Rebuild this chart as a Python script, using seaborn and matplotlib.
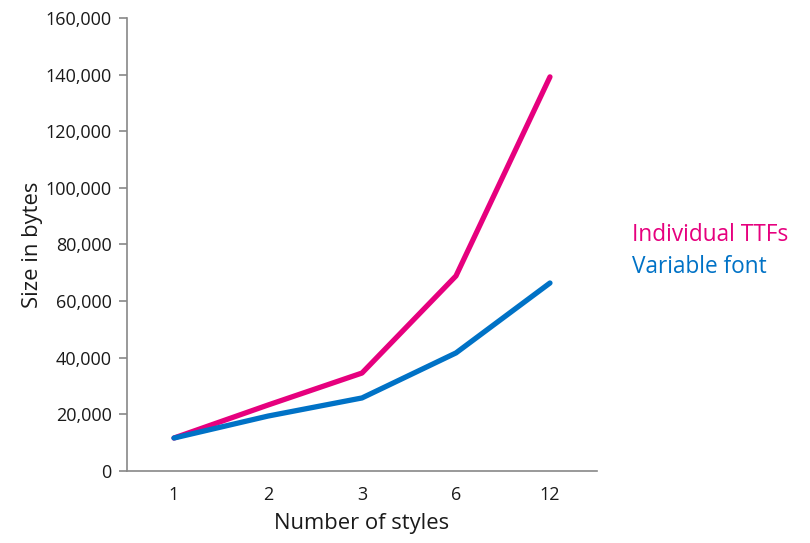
import matplotlib
matplotlib.use("Agg")
import matplotlib.pyplot as plt
import seaborn as sns
import pandas as pd
from matplotlib.ticker import FuncFormatter

styles = ["1", "2", "3", "6", "12"]
individual_ttfs = [11650, 23300, 34600, 68900, 139200]
variable_font = [11650, 19400, 25800, 41700, 66400]
series_names = ["Individual TTFs", "Variable font"]
colors = ["#E6007E", "#0072C6"]

df = pd.DataFrame({
    "styles": styles * 2,
    "bytes": individual_ttfs + variable_font,
    "series": [series_names[0]] * len(styles) + [series_names[1]] * len(styles),
})

sns.set_style("white")
plt.rcParams["font.family"] = ["Open Sans", "DejaVu Sans"]

fig = plt.figure(figsize=(8.1, 5.43), dpi=100)
ax = fig.add_axes([0.1568, 0.1326, 0.737 - 0.1568, 0.9669 - 0.1326])

sns.lineplot(data=df, x="styles", y="bytes", hue="series", palette=colors,
             linewidth=3.8, sort=False, ax=ax, legend=False)

ax.set_xlim(-0.5, 4.5)
ax.set_ylim(0, 160000)
ax.set_yticks(range(0, 160001, 20000))
ax.yaxis.set_major_formatter(FuncFormatter(lambda v, p: f"{int(v):,}"))
ax.set_xlabel("Number of styles", fontsize=15.8, color="#1a1a1a", labelpad=7)
ax.set_ylabel("Size in bytes", fontsize=15.8, color="#1a1a1a", labelpad=2)

for s in ["top", "right"]:
    ax.spines[s].set_visible(False)
for s in ["left", "bottom"]:
    ax.spines[s].set_color("#888888")
    ax.spines[s].set_linewidth(1.2)

ax.tick_params(axis="y", which="major", left=True, length=6, width=1.2,
               color="#888888", labelsize=13, labelcolor="#1a1a1a", pad=5)
ax.tick_params(axis="x", which="major", bottom=False, labelsize=13,
               labelcolor="#1a1a1a", pad=7)

ax.text(1.074, 0.52, series_names[0], transform=ax.transAxes, color=colors[0],
        fontsize=16.3, va="center", ha="left")
ax.text(1.074, 0.45, series_names[1], transform=ax.transAxes, color=colors[1],
        fontsize=16.3, va="center", ha="left")

fig.savefig("out.png", dpi=100)
